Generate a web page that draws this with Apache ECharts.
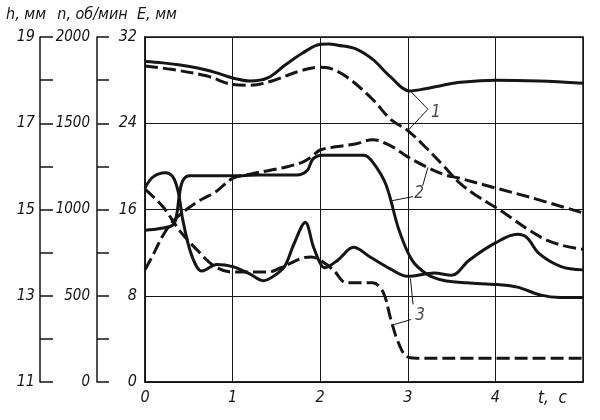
<!DOCTYPE html>
<html>
<head>
<meta charset="utf-8">
<script src="https://cdn.jsdelivr.net/npm/echarts@6/dist/echarts.min.js"></script>
<style>
  html, body { margin: 0; padding: 0; background: #fff; }
  #chart { width: 600px; height: 420px; }
</style>
</head>
<body>
<div id="chart"></div>
<script>
// curve 1 (h, mm) - solid and dashed
const t1Solid = [0, 0.2, 0.4, 0.6, 0.8, 1.0, 1.2, 1.4, 1.6, 1.8, 2.0, 2.1, 2.2, 2.4, 2.6, 2.8, 3.02, 3.2, 3.4, 3.6, 4.0, 4.5, 5.0];
const h1Solid = [18.43, 18.40, 18.35, 18.28, 18.18, 18.05, 17.98, 18.05, 18.35, 18.63, 18.83, 18.84, 18.81, 18.73, 18.48, 18.08, 17.75, 17.80, 17.88, 17.95, 18.00, 17.98, 17.93];
const t1Dash = [0, 0.3, 0.7, 1.0, 1.2, 1.45, 1.75, 2.0, 2.1, 2.3, 2.6, 2.8, 3.0, 3.2, 3.4, 3.6, 3.8, 4.0, 4.2, 4.4, 4.6, 4.8, 5.0];
const h1Dash = [18.33, 18.25, 18.10, 17.90, 17.88, 17.98, 18.20, 18.30, 18.28, 18.08, 17.55, 17.10, 16.83, 16.45, 16.03, 15.60, 15.30, 15.05, 14.78, 14.50, 14.28, 14.15, 14.08];

// curve 2 (n, rpm)
const t2Solid = [0, 0.17, 0.32, 0.36, 0.39, 0.43, 0.51, 1.0, 1.3, 1.73, 1.85, 1.92, 2.03, 2.5, 2.6, 2.75, 2.9, 3.05, 3.22, 3.4, 3.67, 4.02, 4.25, 4.51, 4.74, 5.0];
const n2Solid = [880, 890, 910, 965, 1075, 1165, 1195, 1195, 1200, 1200, 1225, 1295, 1315, 1315, 1275, 1145, 880, 705, 625, 590, 575, 565, 550, 505, 490, 490];
const t2Dash = [0, 0.1, 0.2, 0.3, 0.4, 0.6, 0.8, 1.0, 1.2, 1.4, 1.6, 1.8, 1.9, 2.0, 2.2, 2.4, 2.6, 2.8, 3.0, 3.2, 3.4, 3.6, 4.0, 4.4, 5.0];
const n2Dash = [650, 745, 845, 920, 970, 1045, 1100, 1180, 1205, 1225, 1245, 1275, 1305, 1345, 1365, 1380, 1405, 1370, 1305, 1250, 1205, 1180, 1125, 1070, 980];

// curve 3 (E, mm)
const t3Solid = [0, 0.09, 0.23, 0.32, 0.38, 0.43, 0.51, 0.59, 0.65, 0.82, 1.0, 1.2, 1.35, 1.5, 1.6, 1.7, 1.83, 1.92, 2.0, 2.05, 2.2, 2.38, 2.57, 2.8, 3.0, 3.3, 3.5, 3.7, 4.0, 4.25, 4.36, 4.5, 4.75, 5.0];
const e3Solid = [18.0, 19.0, 19.4, 19.0, 17.6, 15.1, 12.3, 10.7, 10.3, 10.9, 10.7, 10.0, 9.4, 10.0, 10.8, 12.8, 14.8, 12.6, 11.0, 10.6, 11.3, 12.5, 11.6, 10.5, 9.8, 10.1, 9.9, 11.3, 12.9, 13.7, 13.4, 11.9, 10.7, 10.4];
const t3Dash = [0, 0.2, 0.4, 0.6, 0.8, 1.0, 1.4, 1.6, 1.8, 1.9, 2.0, 2.15, 2.3, 2.6, 2.72, 2.8, 2.88, 2.98, 3.1, 5.0];
const e3Dash = [17.9, 16.3, 14.0, 12.2, 10.7, 10.2, 10.2, 10.8, 11.5, 11.6, 11.3, 10.4, 9.2, 9.2, 8.3, 6.0, 3.9, 2.4, 2.2, 2.2];

// curve labels and leader lines, in (t, E) units
const curveNames = ['1', '2', '3'];
const labelPos = [[3.32, 25.0], [3.13, 17.5], [3.14, 6.2]];
const leaders = [
  [[3.04, 26.9], [3.23, 25.3], [3.01, 23.4]],
  [[2.81, 16.8], [3.06, 17.2]],
  [[3.17, 18.2], [3.23, 19.9]],
  [[3.03, 9.6], [3.06, 7.2]],
  [[3.04, 5.8], [2.83, 5.3]]
];

const ink = '#151515';
const font = "'Liberation Sans Narrow', 'DejaVu Sans Condensed', 'DejaVu Sans', sans-serif";
const zip = (xs, ys) => xs.map((x, i) => [x, ys[i]]);

const leaderData = [];
leaders.forEach((seg, i) => {
  if (i > 0) leaderData.push(['-', '-']);
  seg.forEach(p => leaderData.push(p));
});

const curve = (name, data, axis, dashed) => ({
  name,
  type: 'line',
  yAxisIndex: axis,
  data,
  smooth: 0.35,
  showSymbol: false,
  silent: true,
  lineStyle: { color: ink, width: 3, type: dashed ? [13, 5] : 'solid' }
});

const textStyle = size => ({ fontFamily: font, fontStyle: 'italic', fontSize: size, color: ink });
const labelStyle = textStyle(16);
const axisLine = { show: true, onZero: false, lineStyle: { color: ink, width: 1.5 } };

const chart = echarts.init(document.getElementById('chart'));
chart.setOption({
  backgroundColor: '#fff',
  animation: false,
  grid: { left: 145, right: 17, top: 37, bottom: 38, show: true, borderColor: ink, borderWidth: 1.5 },
  xAxis: {
    type: 'value', min: 0, max: 5, interval: 1,
    axisLine: { onZero: false, lineStyle: { color: ink, width: 1.5 } },
    axisTick: { show: false },
    splitLine: { lineStyle: { color: ink, width: 1 } },
    axisLabel: Object.assign({ margin: 8, formatter: v => (v < 5 ? String(v) : '') }, labelStyle),
    name: 't,  c', nameLocation: 'end', nameGap: -45,
    nameTextStyle: Object.assign({ verticalAlign: 'top', padding: [8, 0, 0, 0] }, textStyle(17))
  },
  yAxis: [
    {
      type: 'value', position: 'left', offset: 105, min: 11, max: 19, interval: 1,
      axisLine,
      axisTick: { show: true, inside: true, length: 13, lineStyle: { color: ink, width: 1.5 } },
      axisLabel: Object.assign({ margin: 5, formatter: v => (v % 2 === 1 ? String(v) : '') }, labelStyle),
      splitLine: { show: false },
      name: 'h, мм', nameLocation: 'end', nameGap: 14,
      nameTextStyle: Object.assign({ align: 'center', padding: [0, 28, 0, 0] }, labelStyle)
    },
    {
      type: 'value', position: 'left', offset: 48, min: 0, max: 2000, interval: 250,
      axisLine,
      axisTick: { show: true, inside: true, length: 12, lineStyle: { color: ink, width: 1.5 } },
      axisLabel: Object.assign({ margin: 7, formatter: v => (v % 500 === 0 ? String(v) : '') }, textStyle(15)),
      splitLine: { show: false },
      name: 'n, об/мин', nameLocation: 'end', nameGap: 14,
      nameTextStyle: Object.assign({ align: 'center', padding: [0, 9, 0, 0] }, labelStyle)
    },
    {
      type: 'value', position: 'left', offset: 0, min: 0, max: 32, interval: 8,
      axisLine,
      axisTick: { show: false },
      axisLabel: Object.assign({ margin: 8 }, labelStyle),
      splitLine: { lineStyle: { color: ink, width: 1 } },
      name: 'E, мм', nameLocation: 'end', nameGap: 14,
      nameTextStyle: Object.assign({ align: 'center', padding: [0, 0, 0, 24] }, labelStyle)
    }
  ],
  series: [
    curve('1', zip(t1Solid, h1Solid), 0, false),
    curve('1', zip(t1Dash, h1Dash), 0, true),
    curve('2', zip(t2Solid, n2Solid), 1, false),
    curve('2', zip(t2Dash, n2Dash), 1, true),
    curve('3', zip(t3Solid, e3Solid), 2, false),
    curve('3', zip(t3Dash, e3Dash), 2, true),
    {
      type: 'line', yAxisIndex: 2, data: leaderData, showSymbol: false, silent: true,
      connectNulls: false, lineStyle: { color: ink, width: 1 }
    },
    {
      type: 'scatter', yAxisIndex: 2, silent: true, symbolSize: 1,
      itemStyle: { color: 'rgba(0,0,0,0)' },
      data: labelPos.map((p, i) => ({ value: p, name: curveNames[i] })),
      label: Object.assign({ show: true, position: 'inside', formatter: p => p.name }, textStyle(17))
    }
  ]
});
</script>
</body>
</html>
